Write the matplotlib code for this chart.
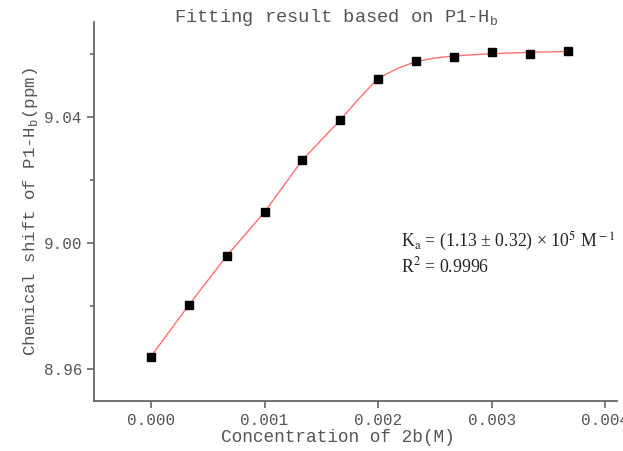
import matplotlib
matplotlib.use("Agg")
import matplotlib.pyplot as plt
from matplotlib.ticker import MultipleLocator

# data
conc = [0.0, 0.000333, 0.000667, 0.001, 0.001333, 0.001667,
        0.002, 0.002333, 0.002667, 0.003, 0.003333, 0.003667]
shift = [8.9640, 8.9803, 8.9959, 9.0098, 9.0263, 9.0390,
         9.0520, 9.0578, 9.0590, 9.0604, 9.0599, 9.0607]

# fitted curve
fit_x = [0.0, 0.000333, 0.000667, 0.001, 0.001333, 0.001667, 0.00183,
         0.002, 0.00217, 0.002333, 0.0025, 0.002667, 0.003, 0.003333, 0.003667]
fit_y = [8.9640, 8.9803, 8.9959, 9.0098, 9.0263, 9.0390, 9.0457,
         9.0522, 9.0553, 9.0575, 9.0586, 9.0593, 9.0600, 9.0604, 9.0607]

xticks = [0.000, 0.001, 0.002, 0.003, 0.004]
yticks = [8.96, 9.00, 9.04]

plt.rcParams["mathtext.fontset"] = "custom"
plt.rcParams["mathtext.rm"] = "Liberation Mono"

grey = "#555555"
mono = "Liberation Mono"

fig = plt.figure(figsize=(6.23, 4.51), dpi=100)
ax = fig.add_axes([0.151, 0.1115, 0.839, 0.8395])

ax.plot(fit_x, fit_y, color="#ff7070", lw=1.0, zorder=2)
ax.plot(conc, shift, ls="none", marker="s", ms=5.5, color="black", zorder=3)

ax.set_xlim(-0.0005, 0.0041)
ax.set_ylim(8.950, 9.070)
ax.set_xticks(xticks)
ax.set_xticklabels([f"{v:.3f}" for v in xticks])
ax.set_yticks(yticks)
ax.set_yticklabels([f"{v:.2f}" for v in yticks])
ax.yaxis.set_minor_locator(MultipleLocator(0.02))

for side in ("top", "right"):
    ax.spines[side].set_visible(False)
for side in ("left", "bottom"):
    ax.spines[side].set_color("#666666")
    ax.spines[side].set_linewidth(1.3)

ax.tick_params(which="major", direction="out", length=5, width=1.2,
               color="#666666", labelcolor=grey, labelsize=11.5)
ax.tick_params(which="minor", direction="out", length=3, width=1.2,
               color="#666666")
for lab in ax.get_xticklabels() + ax.get_yticklabels():
    lab.set_fontfamily(mono)

ax.set_xlabel("Concentration of 2b(M)", fontfamily=mono, fontsize=12.8,
              color=grey)
ax.xaxis.set_label_coords(0.467, -0.075)
ax.set_ylabel(r"Chemical shift of P1-H$_{\mathrm{b}}$(ppm)", fontfamily=mono,
              fontsize=12.5, color=grey, labelpad=3)
fig.text(0.54, 0.962, r"Fitting result based on P1-H$_{\mathrm{b}}$",
         ha="center", va="center", fontfamily=mono, fontsize=13.5, color=grey)

ax.text(0.00220, 9.0005, r"K$_{\rm a}$ = (1.13 ± 0.32) × 10$^{5}$ M$^{\rm -1}$",
        fontfamily="Liberation Serif", math_fontfamily="stix",
        fontsize=12.8, color="#222222", va="center")
ax.text(0.00220, 8.9925, r"R$^{2}$ = 0.9996",
        fontfamily="Liberation Serif", math_fontfamily="stix",
        fontsize=12.8, color="#222222", va="center")

fig.savefig("out.png", dpi=100)
